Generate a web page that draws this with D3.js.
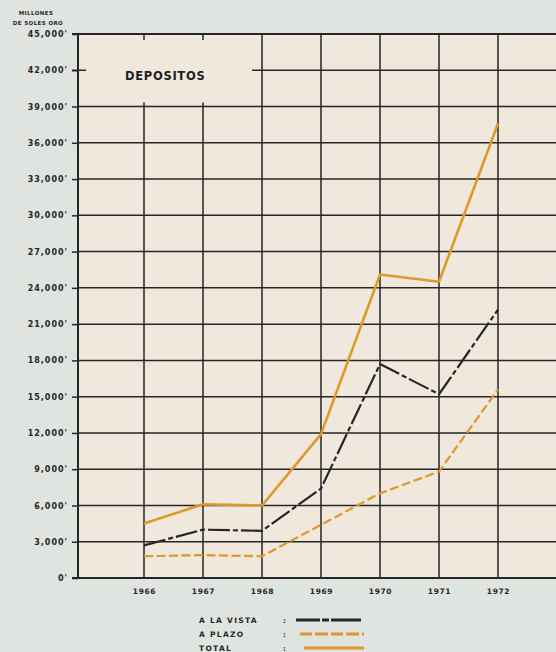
<!DOCTYPE html>
<html>
<head>
<meta charset="utf-8">
<script src="https://cdn.jsdelivr.net/npm/d3@7"></script>
<style>
  html, body { margin: 0; padding: 0; background: #dfe4e1; }
  svg { display: block; font-family: 'DejaVu Sans', sans-serif; font-weight: bold; }
</style>
</head>
<body>
<div id="chart"></div>
<script>
const years = [1966, 1967, 1968, 1969, 1970, 1971, 1972];
const aLaVista = [2700, 4000, 3900, 7400, 17700, 15200, 22200];
const aPlazo = [1800, 1900, 1800, 4400, 7000, 8800, 15600];
const total = [4500, 6100, 6000, 11900, 25100, 24500, 37600];

const yTicks = [0, 3000, 6000, 9000, 12000, 15000, 18000, 21000, 24000, 27000, 30000, 33000, 36000, 39000, 42000, 45000];
const yTickLabels = ["0'", "3,000'", "6,000'", "9,000'", "12,000'", "15,000'", "18,000'", "21,000'", "24,000'",
  "27,000'", "30,000'", "33,000'", "36,000'", "39,000'", "42,000'", "45,000'"];

const legendLabels = ['A LA VISTA', 'A PLAZO', 'TOTAL'];

const width = 556;
const height = 652;
const plot = { left: 78, top: 34, bottom: 578 };
const ink = '#262626';
const orange = '#df982a';

const x = d3.scaleLinear().domain([1966, 1972]).range([144, 498]);
const y = d3.scaleLinear().domain([0, 45000]).range([plot.bottom, plot.top]);

const svg = d3.select('#chart').append('svg').attr('width', width).attr('height', height);

svg.append('rect').attr('width', width).attr('height', height).attr('fill', '#dfe4e1');
svg.append('rect')
  .attr('x', plot.left).attr('y', plot.top)
  .attr('width', width - plot.left).attr('height', plot.bottom - plot.top)
  .attr('fill', '#f0e8dd');

// grid: the title box in the top left corner keeps its area free
const titleBoxRight = 252;
const grid = svg.append('g').attr('stroke', ink).attr('stroke-width', 1.5);

grid.selectAll('line.h')
  .data(yTicks.filter((d) => d > 0))
  .join('line')
  .attr('class', 'h')
  .attr('x1', (d) => (d === 42000 ? titleBoxRight : plot.left))
  .attr('x2', width)
  .attr('y1', (d) => y(d))
  .attr('y2', (d) => y(d));

grid.selectAll('line.v')
  .data(years)
  .join('line')
  .attr('class', 'v')
  .attr('x1', (d) => x(d))
  .attr('x2', (d) => x(d))
  .attr('y1', (d) => (x(d) < titleBoxRight ? y(39000) - 4 : y(45000)))
  .attr('y2', plot.bottom);

grid.selectAll('line.vt')
  .data(years.filter((d) => x(d) < titleBoxRight))
  .join('line')
  .attr('class', 'vt')
  .attr('x1', (d) => x(d))
  .attr('x2', (d) => x(d))
  .attr('y1', y(45000))
  .attr('y2', y(45000) + 6);

grid.append('line')
  .attr('x1', plot.left - 6).attr('x2', plot.left + 8)
  .attr('y1', y(42000)).attr('y2', y(42000));

// y axis
const yAxis = svg.append('g')
  .attr('transform', `translate(${plot.left},0)`)
  .call(d3.axisLeft(y).tickValues(yTicks).tickSize(6).tickPadding(4)
    .tickFormat((d, i) => yTickLabels[i]));
yAxis.select('.domain').remove();
yAxis.selectAll('.tick line').attr('stroke', ink).attr('stroke-width', 1.5);
yAxis.selectAll('.tick text')
  .attr('fill', ink)
  .attr('font-size', 8)
  .attr('letter-spacing', 1)
  .attr('font-family', "'DejaVu Sans', sans-serif")
  .attr('font-weight', 'bold');

svg.append('line')
  .attr('x1', plot.left).attr('x2', plot.left)
  .attr('y1', plot.top).attr('y2', plot.bottom)
  .attr('stroke', ink).attr('stroke-width', 2);

// x axis
const xAxis = svg.append('g')
  .attr('transform', `translate(0,${plot.bottom})`)
  .call(d3.axisBottom(x).tickValues(years).tickSize(0).tickPadding(11).tickFormat(d3.format('d')));
xAxis.select('.domain').remove();
xAxis.selectAll('.tick text')
  .attr('fill', ink)
  .attr('font-size', 7.5)
  .attr('letter-spacing', 0.6)
  .attr('font-family', "'DejaVu Sans', sans-serif")
  .attr('font-weight', 'bold');

svg.append('line')
  .attr('x1', plot.left - 6).attr('x2', width)
  .attr('y1', plot.bottom).attr('y2', plot.bottom)
  .attr('stroke', ink).attr('stroke-width', 2);

svg.append('line')
  .attr('x1', plot.left - 6).attr('x2', width)
  .attr('y1', plot.top).attr('y2', plot.top)
  .attr('stroke', ink).attr('stroke-width', 1.8);

// unit and title
svg.append('text').attr('x', 36).attr('y', 15).attr('text-anchor', 'middle')
  .attr('font-size', 5.5).attr('letter-spacing', 0.4).attr('fill', ink).text('MILLONES');
svg.append('text').attr('x', 38).attr('y', 25).attr('text-anchor', 'middle')
  .attr('font-size', 5.5).attr('letter-spacing', 0.4).attr('fill', ink).text('DE SOLES ORO');
svg.append('text').attr('x', 125).attr('y', 80)
  .attr('font-size', 11.5).attr('letter-spacing', 0.7).attr('fill', '#1e1e1e').text('DEPOSITOS');

// series
const series = [
  { name: legendLabels[0], values: aLaVista, color: ink, dash: '22,3,5,3', width: 2.2 },
  { name: legendLabels[1], values: aPlazo, color: orange, dash: '9,3.5', width: 2.2 },
  { name: legendLabels[2], values: total, color: orange, dash: null, width: 2.6 },
];

const line = d3.line()
  .x((d, i) => x(years[i]))
  .y((d) => y(d));

svg.append('g')
  .selectAll('path')
  .data(series)
  .join('path')
  .attr('d', (d) => line(d.values))
  .attr('fill', 'none')
  .attr('stroke', (d) => d.color)
  .attr('stroke-width', (d) => d.width)
  .attr('stroke-dasharray', (d) => d.dash)
  .attr('stroke-linejoin', 'round');

// legend
const legend = svg.append('g');
const legendRows = legend.selectAll('g')
  .data(series)
  .join('g')
  .attr('transform', (d, i) => `translate(0,${623 + i * 14})`);

legendRows.append('text')
  .attr('x', 199).attr('y', 0)
  .attr('font-size', 7.5).attr('letter-spacing', 1.3).attr('fill', ink)
  .text((d) => d.name);

legendRows.append('text')
  .attr('x', 283).attr('y', 0)
  .attr('font-size', 7).attr('fill', ink)
  .text(':');

legendRows.append('line')
  .attr('x1', (d, i) => 296 + i * 4).attr('x2', 364)
  .attr('y1', -3).attr('y2', -3)
  .attr('stroke', (d) => d.color)
  .attr('stroke-width', 2.8)
  .attr('stroke-dasharray', (d, i) => (i === 0 ? '24,2,7,2,30' : d.dash ? '12,3,13,3' : null));
</script>
</body>
</html>
